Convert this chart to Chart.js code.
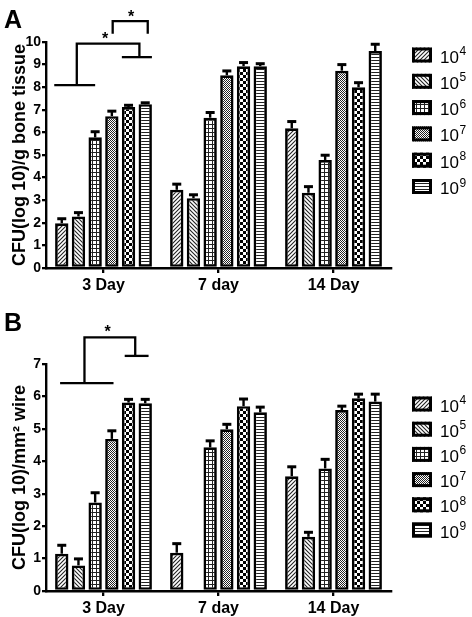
<!DOCTYPE html>
<html lang="en">
<head>
<meta charset="UTF-8">
<title>CFU</title>
<script src="https://cdn.jsdelivr.net/npm/chart.js"></script>
<style>
    body { margin: 0; background: #fff; width: 472px; height: 617px; position: relative; overflow: hidden; font-family: "Liberation Sans", Arial, sans-serif; }
    .painel { position: absolute; left: 0; width: 472px; }
    #caixaA { top: 0; height: 300px; }
    #caixaB { top: 300px; height: 317px; }
    .letra { position: absolute; left: 4px; font-weight: bold; font-size: 25px; line-height: 25px; }
</style>
</head>
<body>
<div class="painel" id="caixaA"><canvas id="graficoA" width="472" height="300"></canvas></div>
<div class="painel" id="caixaB"><canvas id="graficoB" width="472" height="317"></canvas></div>
<div class="letra" style="top:7px">A</div>
<div class="letra" style="top:310px">B</div>

<script>
    var dias = ['3 Day', '7 day', '14 Day'];
    var expoentes = ['4', '5', '6', '7', '8', '9'];

    // A - CFU(log 10)/g bone tissue
    var osso_e4 = [1.98, 3.46, 6.18];
    var osso_e5 = [2.28, 3.09, 3.33];
    var osso_e6 = [5.78, 6.65, 4.78];
    var osso_e7 = [6.72, 8.53, 8.73];
    var osso_e8 = [7.12, 8.93, 8.00];
    var osso_e9 = [7.25, 8.93, 9.60];
    var erro_osso_e4 = [0.20, 0.25, 0.30];
    var erro_osso_e5 = [0.17, 0.15, 0.27];
    var erro_osso_e6 = [0.25, 0.23, 0.21];
    var erro_osso_e7 = [0.22, 0.19, 0.27];
    var erro_osso_e8 = [0.08, 0.16, 0.20];
    var erro_osso_e9 = [0.06, 0.11, 0.30];

    // B - CFU(log 10)/mm2 wire
    var fio_e4 = [1.15, 1.18, 3.54];
    var fio_e5 = [0.79, null, 1.67];
    var fio_e6 = [2.73, 4.43, 3.78];
    var fio_e7 = [4.69, 4.99, 5.58];
    var fio_e8 = [5.81, 5.70, 5.94];
    var fio_e9 = [5.79, 5.51, 5.84];
    var erro_fio_e4 = [0.26, 0.28, 0.29];
    var erro_fio_e5 = [0.20, 0, 0.14];
    var erro_fio_e6 = [0.30, 0.20, 0.28];
    var erro_fio_e7 = [0.25, 0.15, 0.12];
    var erro_fio_e8 = [0.10, 0.22, 0.13];
    var erro_fio_e9 = [0.12, 0.16, 0.23];

    // significancia: [indice da barra no grupo 3 Day, valor]
    var colchetesA = [
        [[-0.45, 8.09], [2.0, 8.09]],
        [[0.9, 8.09], [0.9, 9.93], [4.65, 9.93], [4.65, 9.33]],
        [[3.6, 9.33], [5.4, 9.33]],
        [[3.05, 10.37], [3.05, 10.92], [5.15, 10.92], [5.15, 10.37]]
    ];
    var estrelasA = [[2.6, 10.29], [4.15, 11.30]];
    var colchetesB = [
        [[-0.1, 6.41], [3.1, 6.41]],
        [[1.36, 6.41], [1.36, 7.82], [4.4, 7.82], [4.4, 7.25]],
        [[3.77, 7.25], [5.2, 7.25]]
    ];
    var estrelasB = [[2.74, 8.12]];

    Chart.defaults.font.family = '"Liberation Sans", Arial, sans-serif';
    Chart.defaults.color = '#000';

    function criarPadrao(tipo) {
        var c = document.createElement('canvas');
        var g = c.getContext('2d');
        var t = 4;
        if (tipo == 'pontos') t = 2;
        if (tipo == 'xadrez') t = 6;
        if (tipo == 'linhas') t = 3;
        c.width = t; c.height = t;
        g.fillStyle = '#fff';
        g.fillRect(0, 0, t, t);
        g.fillStyle = '#222';
        g.strokeStyle = '#222';
        g.lineWidth = 1.1;
        if (tipo == 'diag1') {
            g.beginPath();
            g.moveTo(0, 4); g.lineTo(4, 0);
            g.moveTo(-1, 1); g.lineTo(1, -1);
            g.moveTo(3, 5); g.lineTo(5, 3);
            g.stroke();
        } else if (tipo == 'diag2') {
            g.beginPath();
            g.moveTo(0, 0); g.lineTo(4, 4);
            g.moveTo(-1, 3); g.lineTo(1, 5);
            g.moveTo(3, -1); g.lineTo(5, 1);
            g.stroke();
        } else if (tipo == 'grade') {
            g.fillRect(0, 0, 4, 1);
            g.fillRect(0, 0, 1, 4);
        } else if (tipo == 'pontos') {
            g.fillRect(0, 0, 1, 1);
            g.fillRect(1, 1, 1, 1);
        } else if (tipo == 'xadrez') {
            g.fillStyle = '#000';
            g.fillRect(0, 0, 3, 3);
            g.fillRect(3, 3, 3, 3);
        } else if (tipo == 'linhas') {
            g.fillRect(0, 0, 3, 1);
        }
        return document.createElement('canvas').getContext('2d').createPattern(c, 'repeat');
    }

    var padroes = ['diag1', 'diag2', 'grade', 'pontos', 'xadrez', 'linhas'].map(criarPadrao);

    var pluginErro = {
        id: 'erro',
        afterDatasetsDraw: function (chart) {
            var ctx = chart.ctx;
            var y = chart.scales.y;
            ctx.save();
            ctx.strokeStyle = '#000';
            chart.data.datasets.forEach(function (ds, i) {
                chart.getDatasetMeta(i).data.forEach(function (barra, j) {
                    if (ds.data[j] == null || !ds.erro[j]) return;
                    var topo = y.getPixelForValue(ds.data[j] + ds.erro[j]);
                    ctx.lineWidth = 2.4;
                    ctx.beginPath();
                    ctx.moveTo(barra.x, barra.y);
                    ctx.lineTo(barra.x, topo);
                    ctx.stroke();
                    ctx.lineWidth = 3;
                    ctx.beginPath();
                    ctx.moveTo(barra.x - 4.5, topo);
                    ctx.lineTo(barra.x + 4.5, topo);
                    ctx.stroke();
                });
            });
            ctx.restore();
        }
    };

    var pluginExtras = {
        id: 'extras',
        afterDraw: function (chart, args, o) {
            var ctx = chart.ctx;
            var y = chart.scales.y;
            var x0 = chart.getDatasetMeta(0).data[0].x;
            var dx = chart.getDatasetMeta(1).data[0].x - x0;
            ctx.save();
            // colchetes
            ctx.strokeStyle = '#000';
            ctx.lineWidth = 2.3;
            o.colchetes.forEach(function (linha) {
                ctx.beginPath();
                linha.forEach(function (p, k) {
                    var px = x0 + p[0] * dx, py = y.getPixelForValue(p[1]);
                    if (k == 0) ctx.moveTo(px, py); else ctx.lineTo(px, py);
                });
                ctx.stroke();
            });
            ctx.fillStyle = '#000';
            ctx.textAlign = 'center';
            ctx.textBaseline = 'alphabetic';
            ctx.font = 'bold 16px "Liberation Sans"';
            o.estrelas.forEach(function (s) {
                ctx.fillText('*', x0 + s[0] * dx, y.getPixelForValue(s[1]) + 9);
            });
            // legenda
            ctx.textAlign = 'left';
            chart.data.datasets.forEach(function (ds, i) {
                var cy = o.topo + i * o.passo;
                ctx.fillStyle = ds.backgroundColor;
                ctx.fillRect(412, cy - 7.5, 20, 15);
                ctx.lineWidth = 3;
                ctx.strokeStyle = '#000';
                ctx.strokeRect(413.5, cy - 6, 17, 12);
                ctx.fillStyle = '#000';
                ctx.font = '17px "Liberation Sans"';
                ctx.fillText('10', 440, cy + 7.5);
                var w = ctx.measureText('10').width;
                ctx.font = '12px "Liberation Sans"';
                ctx.fillText(expoentes[i], 440 + w + 0.5, cy);
            });
            ctx.restore();
        }
    };

    function montarGrafico(id, series, erros, maxY, tituloY, topo, alturaX, colchetes, estrelas, legTopo, legPasso) {
        var conjuntos = [];
        for (var i = 0; i < series.length; i++) {
            conjuntos.push({
                label: '10' + expoentes[i],
                data: series[i],
                erro: erros[i],
                backgroundColor: padroes[i],
                borderColor: '#000',
                borderWidth: 2.7,
                borderSkipped: false,
                categoryPercentage: 0.871,
                barPercentage: 0.8
            });
        }
        return new Chart(document.getElementById(id), {
            type: 'bar',
            data: { labels: dias, datasets: conjuntos },
            plugins: [pluginErro, pluginExtras],
            options: {
                responsive: false,
                animation: false,
                layout: { padding: { top: topo, right: 81, left: 0, bottom: 0 } },
                plugins: {
                    legend: { display: false },
                    tooltip: { enabled: false },
                    extras: { colchetes: colchetes, estrelas: estrelas, topo: legTopo, passo: legPasso }
                },
                scales: {
                    x: {
                        grid: { display: true, drawOnChartArea: false, offset: false, tickLength: 5, lineWidth: 2.3, color: '#000' },
                        border: { display: true, width: 2.4, color: '#000' },
                        ticks: { color: '#000', font: { size: 16, weight: 'bold' }, padding: 3 },
                        afterFit: function (s) { s.height = alturaX; }
                    },
                    y: {
                        min: 0,
                        max: maxY,
                        ticks: { stepSize: 1, color: '#000', font: { size: 14, weight: 'bold' }, padding: 1 },
                        grid: { display: true, drawOnChartArea: false, tickLength: 4, lineWidth: 2.3, color: '#000' },
                        border: { display: true, width: 2.4, color: '#000' },
                        title: { display: true, text: tituloY, color: '#000', font: { size: 18, weight: 'bold' }, padding: { top: 9, bottom: 0 } },
                        afterFit: function (s) { s.width = 46; }
                    }
                }
            }
        });
    }

    var graficoA = montarGrafico('graficoA',
        [osso_e4, osso_e5, osso_e6, osso_e7, osso_e8, osso_e9],
        [erro_osso_e4, erro_osso_e5, erro_osso_e6, erro_osso_e7, erro_osso_e8, erro_osso_e9],
        10, 'CFU(log 10)/g bone tissue', 42, 32, colchetesA, estrelasA, 55, 26.3);

    var graficoB = montarGrafico('graficoB',
        [fio_e4, fio_e5, fio_e6, fio_e7, fio_e8, fio_e9],
        [erro_fio_e4, erro_fio_e5, erro_fio_e6, erro_fio_e7, erro_fio_e8, erro_fio_e9],
        7, 'CFU(log 10)/mm² wire', 64, 26, colchetesB, estrelasB, 104, 25.2);
</script>
</body>
</html>
